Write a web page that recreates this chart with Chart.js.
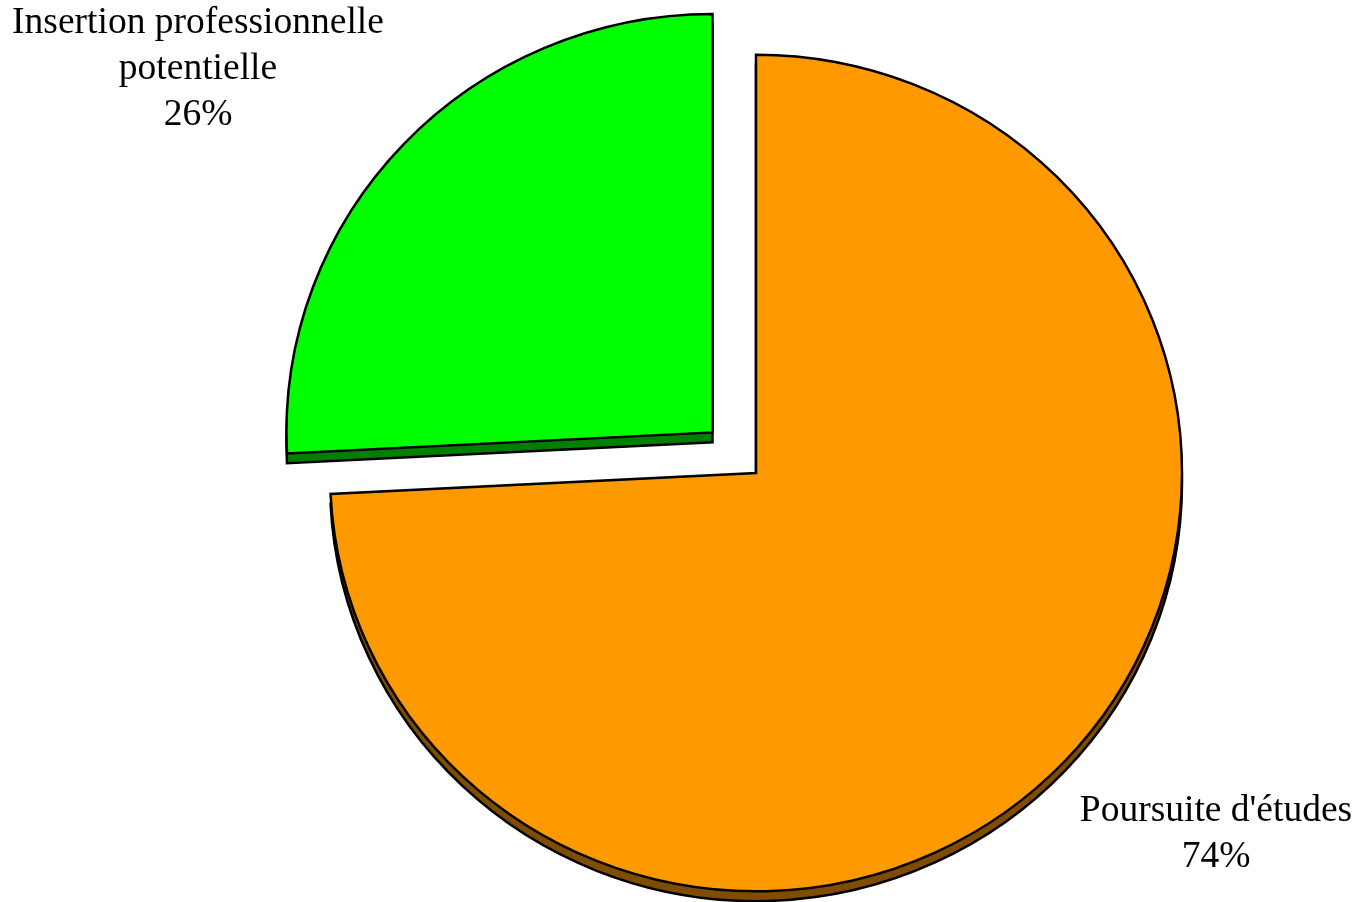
<!DOCTYPE html>
<html>
<head>
<meta charset="utf-8">
<script src="https://cdn.jsdelivr.net/npm/chart.js@4/dist/chart.umd.min.js"></script>
<style>
html,body{margin:0;padding:0;background:#ffffff;overflow:hidden}
#wrap{width:1357px;height:902px;position:relative}
</style>
</head>
<body>
<div id="wrap"><canvas id="c" width="1357" height="902"></canvas></div>
<script>
// ---- data ----
const categories = ["Poursuite d'études", "Insertion professionnelle|potentielle"];
const values = [74.2, 25.8];
const faceColors = ['#FF9900', '#00FF00'];
const sideColors = ['#7F4C00', '#008000'];
const explode = [0, 240];

// ---- plugin: thickness + slight vertical squash + labels ----
const pie3d = {
  id: 'pie3d',
  beforeDatasetsDraw(chart, args, o) {
    const ctx = chart.ctx;
    const meta = chart.getDatasetMeta(0);
    const cx = meta.data[0].x, cy = meta.data[0].y;
    ctx.save();
    ctx.translate(cx, cy);
    ctx.scale(1, o.squash);
    ctx.translate(-cx, -cy);
    // side walls drawn as shifted copies of each arc
    meta.data.forEach((arc, i) => {
      const saved = arc.options;
      arc.options = Object.assign({}, saved, {backgroundColor: o.sideColors[i]});
      ctx.save();
      ctx.translate(0, o.depth);
      arc.draw(ctx);
      ctx.restore();
      arc.options = saved;
    });
  },
  afterDatasetsDraw(chart) {
    chart.ctx.restore();
  },
  afterDraw(chart, args, o) {
    const ctx = chart.ctx;
    const total = values.reduce((a, b) => a + b, 0);
    ctx.save();
    ctx.fillStyle = '#000';
    ctx.font = o.font;
    ctx.textAlign = 'center';
    ctx.textBaseline = 'alphabetic';
    categories.forEach((c, i) => {
      const lines = c.split('|');
      lines.push(Math.round(values[i] / total * 100) + '%');
      const p = o.anchors[i];
      lines.forEach((t, k) => ctx.fillText(t, p[0], p[1] + k * o.lineHeight));
    });
    ctx.restore();
  }
};

new Chart(document.getElementById('c'), {
  type: 'pie',
  data: {
    labels: categories,
    datasets: [{
      data: values,
      backgroundColor: faceColors,
      borderColor: '#000000',
      borderWidth: 2.5,
      borderJoinStyle: 'miter',
      offset: explode,
      clip: false
    }]
  },
  options: {
    responsive: false,
    animation: false,
    events: [],
    rotation: 0,
    radius: 426,
    layout: { padding: { left: 155, right: 0, top: 44, bottom: 0 } },
    plugins: {
      legend: { display: false },
      tooltip: { enabled: false },
      pie3d: {
        squash: 0.982,
        depth: 10,
        sideColors: sideColors,
        font: '37.5px "Liberation Serif", "Times New Roman", serif',
        lineHeight: 46,
        anchors: [[1216, 821], [198, 33]]
      }
    }
  },
  plugins: [pie3d]
});
</script>
</body>
</html>
